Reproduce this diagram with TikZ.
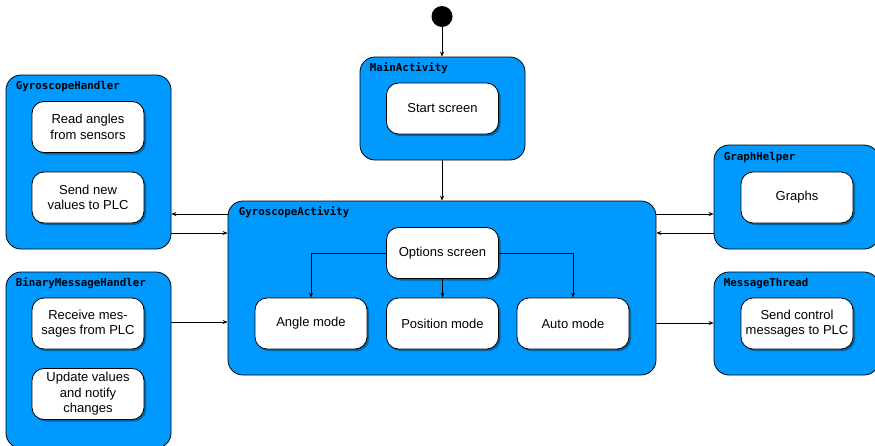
\documentclass[tikz,border=0pt]{standalone}
\usepackage{fontspec}
\setmainfont{Liberation Sans}
\newfontfamily\labelmono{DejaVu Sans Mono}
\usetikzlibrary{shadows,arrows.meta}
\definecolor{boxblue}{HTML}{0099FF}
\tikzset{
  outer/.style={draw=black, fill=boxblue, rounded corners=15pt, line width=0.8pt, minimum width=165pt},
  inner/.style={draw=black, fill=white, rounded corners=12pt, line width=0.8pt,
    minimum width=112pt, minimum height=51pt, align=center, inner sep=2pt,
    font=\fontsize{13}{15.5}\selectfont,
    drop shadow={shadow xshift=2pt, shadow yshift=-2pt, fill=black, opacity=0.35}},
  lbl/.style={anchor=west, inner sep=0pt, font=\labelmono\bfseries\fontsize{10.8}{12}\selectfont},
  arr/.style={draw=black, line width=0.6pt, -{Stealth[length=5pt,width=4pt]}},
  conn/.style={draw=black, line width=0.6pt}
}
\begin{document}
\begin{tikzpicture}[x=1pt,y=-1pt]
\clip (0,0) rectangle (875,445);
% start
\node[circle, fill=black, minimum size=21pt, inner sep=0pt] (start) at (442,16.5) {};
% outer boxes
\node[outer, minimum height=103pt] (main) at (442.5,108.5) {};
\node[outer, minimum height=174pt] (gh) at (88.5,162) {};
\node[outer, minimum height=176pt] (bmh) at (88.5,360) {};
\node[outer, minimum width=428pt, minimum height=174pt] (ga) at (442,288) {};
\node[outer, minimum height=104pt] (ghelp) at (796.5,197) {};
\node[outer, minimum height=103pt] (mt) at (796.5,323.5) {};
% labels
\node[lbl] (mainlbl) at ([xshift=10pt,yshift=-12pt]main.north west) {MainActivity};
\node[lbl] (ghlbl) at ([xshift=10pt,yshift=-12pt]gh.north west) {GyroscopeHandler};
\node[lbl] (bmhlbl) at ([xshift=10pt,yshift=-12pt]bmh.north west) {BinaryMessageHandler};
\node[lbl] (galbl) at ([xshift=11pt,yshift=-12pt]ga.north west) {GyroscopeActivity};
\node[lbl] (ghelplbl) at ([xshift=10pt,yshift=-13pt]ghelp.north west) {GraphHelper};
\node[lbl] (mtlbl) at ([xshift=10pt,yshift=-12pt]mt.north west) {MessageThread};
% inner boxes
\node[inner] (startscr) at (442.5,108.5) {Start screen};
\node[inner] (read) at (88,127) {Read angles\\from sensors};
\node[inner] (send) at (88,197.5) {Send new\\values to PLC};
\node[inner] (receive) at (88,323.5) {Receive mes-\\sages from PLC};
\node[inner] (update) at (88,394) {Update values\\and notify\\changes};
\node[inner] (options) at (442.5,253) {Options screen};
\node[inner] (angle) at (311,323.5) {Angle mode};
\node[inner] (position) at (442.5,323.5) {Position mode};
\node[inner] (auto) at (573,323.5) {Auto mode};
\node[inner] (graphs) at (797,197.5) {Graphs};
\node[inner] (sendctl) at (797,323.5) {Send control\\messages to PLC};
% connectors
\draw[arr] (start.south) -- (start.south |- main.north);
\draw[arr] (main.south -| start.south) -- (start.south |- ga.north);
\draw[arr] (ga.west |- 0,214) -- (gh.east |- 0,214);
\draw[arr] (gh.east |- 0,233) -- (ga.west |- 0,233);
\draw[arr] (bmh.east |- 0,322) -- (ga.west |- 0,322);
\draw[arr] (ga.east |- 0,214) -- (ghelp.west |- 0,214);
\draw[arr] (ghelp.west |- 0,233) -- (ga.east |- 0,233);
\draw[arr] (ga.east |- 0,323) -- (mt.west |- 0,323);
\draw[arr] (options.west) -| (angle.north);
\draw[arr] (options.east) -| (auto.north);
\draw[arr] (options.south) -- (position.north);
\end{tikzpicture}
\end{document}
